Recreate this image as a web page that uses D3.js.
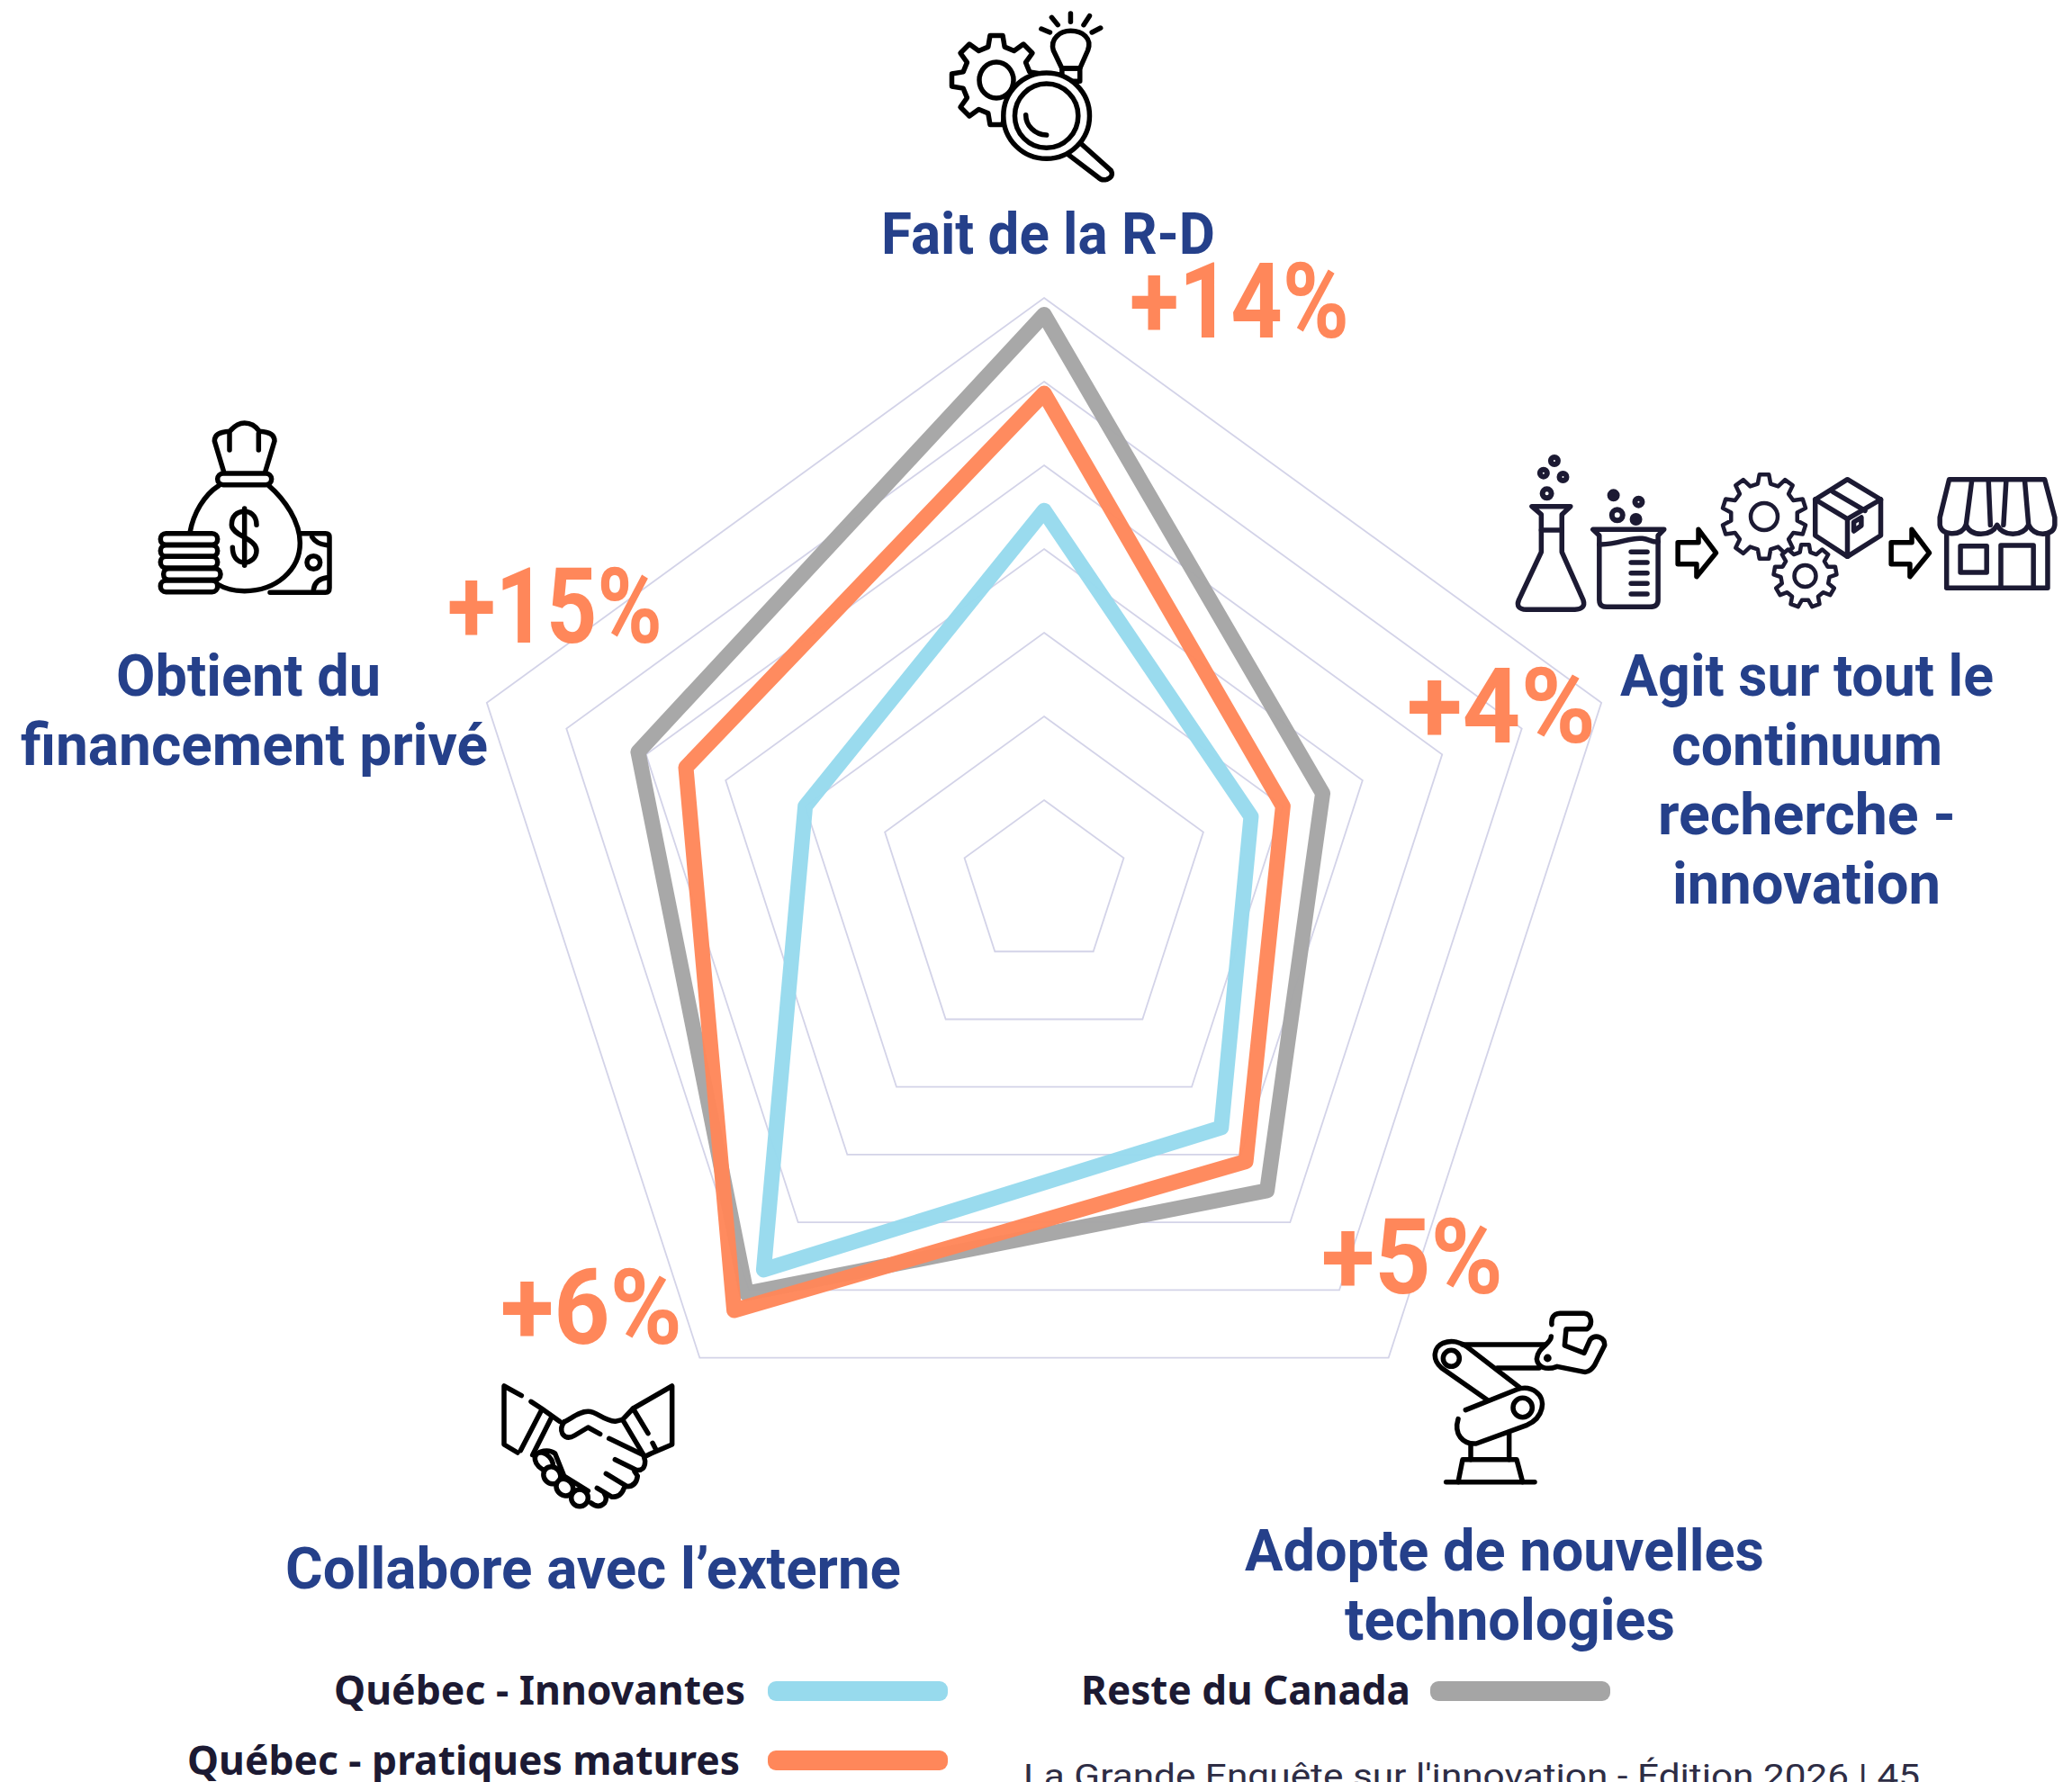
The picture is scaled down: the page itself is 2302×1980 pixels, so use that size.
<!DOCTYPE html>
<html lang="fr">
<head>
<meta charset="utf-8">
<title>Radar</title>
<script src="https://cdn.jsdelivr.net/npm/d3@7"></script>
<style>
  html, body { margin: 0; padding: 0; background: #fff; overflow: hidden; }
  svg { display: block; }
  .icon path, .icon rect, .icon ellipse, .icon line { vector-effect: non-scaling-stroke; }
</style>
</head>
<body>
<div id="chart"></div>
<script>
var width = 2302;
var height = 1980;
var center = {x: 1160, y: 982};
var outerRadius = 651;

// values
var categories = ["Fait de la R-D", "Agit sur tout le continuum recherche - innovation", "Adopte de nouvelles technologies", "Collabore avec l’externe", "Obtient du financement privé"];
var ringValues = [10, 20, 30, 40, 50, 60, 70];
var resteCanada = [68, 35, 45.3, 60.5, 51];
var qcMatures = [58.6, 30, 41, 63, 45];
var qcInnovantes = [44.6, 26, 36, 57, 30];
var gaps = ["+14%", "+4%", "+5%", "+6%", "+15%"];

var blue = "#97DAED";
var orange = "#FF875A";
var grey = "#A5A5A5";
var navy = "#25408A";
var ink = "#1C1A33";

var svg = d3.select("#chart")
    .append("svg")
    .attr("width", width)
    .attr("height", height);

svg.append("rect").attr("width", width).attr("height", height).attr("fill", "#fff");

var rScale = d3.scaleLinear().domain([0, 70]).range([0, outerRadius]);
var angleScale = d3.scalePoint().domain(d3.range(categories.length)).range([0, 2 * Math.PI * 4 / 5]);

var radar = d3.lineRadial()
    .angle(function(d, i) { return angleScale(i); })
    .radius(function(d) { return rScale(d); })
    .curve(d3.curveLinearClosed);

var plot = svg.append("g").attr("transform", `translate(${center.x},${center.y})`);

// grid rings
plot.selectAll(".ring")
    .data(ringValues)
    .enter()
    .append("path")
    .attr("class", "ring")
    .attr("d", function(v) { return radar(categories.map(function() { return v; })); })
    .attr("fill", "none")
    .attr("stroke", "#D3D3E8")
    .attr("stroke-width", 1.8);

// the three series
var series = [
    {values: resteCanada, color: grey},
    {values: qcInnovantes, color: blue},
    {values: qcMatures, color: orange}
];
plot.selectAll(".serie")
    .data(series)
    .enter()
    .append("path")
    .attr("class", "serie")
    .attr("d", function(s) { return radar(s.values); })
    .attr("fill", "none")
    .attr("stroke", function(s) { return s.color; })
    .attr("stroke-width", 17)
    .attr("stroke-linejoin", "round")
    .attr("stroke-opacity", 0.97);

// text helper, textLength squeezes Roboto to the narrower widths of the original
function label(txt, x0, x1, baseline, size, color, family, weight) {
    svg.append("text")
        .attr("x", x0)
        .attr("y", baseline)
        .attr("textLength", x1 - x0)
        .attr("lengthAdjust", "spacingAndGlyphs")
        .attr("font-family", family || "Roboto")
        .attr("font-weight", weight || 700)
        .attr("font-size", size)
        .attr("fill", color)
        .text(txt);
}

// axis labels
label("Fait de la R-D", 979, 1350, 282, 64, navy);
label("Agit sur tout le", 1800, 2215, 773, 64, navy);
label("continuum", 1857, 2158, 850, 64, navy);
label("recherche -", 1842, 2173, 927, 64, navy);
label("innovation", 1858, 2156, 1004, 64, navy);
label("Adopte de nouvelles", 1383, 1960, 1745, 64, navy);
label("technologies", 1494, 1861, 1822, 64, navy);
label("Collabore avec l’externe", 317, 1001, 1765, 64, navy);
label("Obtient du", 129, 423, 773, 64, navy);
label("financement privé", 23, 542, 850, 64, navy);

// gaps between the two Quebec series
var gapBoxes = [[1255, 1499, 375], [1563, 1773, 825], [1468, 1670, 1437], [556, 758, 1493], [497, 736, 714]];
gaps.forEach(function(g, i) {
    label(g, gapBoxes[i][0], gapBoxes[i][1], gapBoxes[i][2], 117, orange);
});

// legend
var legendNames = ["Québec - Innovantes", "Québec - pratiques matures", "Reste du Canada"];
var legendColors = [blue, orange, grey];
var legendBoxes = [
    {x0: 371, x1: 828, y: 1894, sx: 853, sy: 1867},
    {x0: 208, x1: 822, y: 1972, sx: 853, sy: 1944},
    {x0: 1201, x1: 1567, y: 1894, sx: 1589, sy: 1867}
];
legendNames.forEach(function(n, i) {
    var b = legendBoxes[i];
    label(n, b.x0, b.x1, b.y, 45, ink, "Noto Sans", 700);
    svg.append("rect")
        .attr("x", b.sx)
        .attr("y", b.sy + 1)
        .attr("width", 200)
        .attr("height", 22)
        .attr("rx", 9)
        .attr("fill", legendColors[i]);
});

label("La Grande Enquête sur l'innovation - Édition 2026 | 45", 1137, 2133, 1986, 36, "#2E2D45", "Roboto", 400);

// ---- icons ----
function iconGroup(tx, ty, sx, sy, color, sw) {
    return svg.append("g")
        .attr("class", "icon")
        .attr("transform", `translate(${tx},${ty}) scale(${sx},${sy})`)
        .attr("fill", "none")
        .attr("stroke", color)
        .attr("stroke-width", sw)
        .attr("stroke-linecap", "round")
        .attr("stroke-linejoin", "round");
}

function gearPath(cx, cy, ro, ri, n) {
    var pts = [];
    for (var i = 0; i < n; i++) {
        var a = i * 2 * Math.PI / n - Math.PI / 2;
        var w = Math.PI / n;
        pts.push([cx + ri * Math.cos(a - w * 0.62), cy + ri * Math.sin(a - w * 0.62)]);
        pts.push([cx + ro * Math.cos(a - w * 0.36), cy + ro * Math.sin(a - w * 0.36)]);
        pts.push([cx + ro * Math.cos(a + w * 0.36), cy + ro * Math.sin(a + w * 0.36)]);
        pts.push([cx + ri * Math.cos(a + w * 0.62), cy + ri * Math.sin(a + w * 0.62)]);
    }
    return d3.line()(pts) + "Z";
}

function addPaths(g, list) {
    list.forEach(function(d) { g.append("path").attr("d", d); });
}

// research icon: gear, bulb, magnifier
var rdGear = iconGroup(0, 1, 1, 1, "#000", 5.5);
rdGear.append("path").attr("d", gearPath(1107, 88, 50, 38, 8));
rdGear.append("ellipse").attr("cx", 1107).attr("cy", 88).attr("rx", 19).attr("ry", 20);
var rdBulb = iconGroup(1000, 1, 1 / 2.613, 1 / 3, "#000", 5.5);
addPaths(rdBulb, [
    "M495,42 V70", "M440,55 L458,80", "M550,50 L533,80", "M410,93 L435,105", "M582,90 L557,105",
    "M470,225 L445,165 C435,125 465,100 495,100 C530,100 558,125 545,165 L522,225 Z",
    "M470,225 H522 V268 H470 Z"
]);
var rdLens = iconGroup(1000, 1, 1 / 2.613, 1 / 3, "#000", 5.5);
rdLens.append("path").attr("d", "M505,470 L512,462 L612,565 Q622,585 600,595 Q585,600 575,588 L480,505 Z").attr("fill", "#fff");
rdLens.append("ellipse").attr("cx", 425).attr("cy", 383).attr("rx", 125).attr("ry", 143).attr("fill", "#fff");
rdLens.append("ellipse").attr("cx", 425).attr("cy", 383).attr("rx", 92).attr("ry", 107);
rdLens.append("path").attr("d", "M365,380 C365,415 390,445 425,447");

// money bag
var bag = iconGroup(130, 440, 1 / 3, 1 / 3, "#000", 5.5);
addPaths(bag, [
    "M355,250 L325,150 Q325,120 375,118 Q400,90 425,90 Q455,90 475,118 Q525,120 525,150 L495,250",
    "M375,180 V125", "M472,180 V125",
    "M340,298 C290,330 255,390 243,455",
    "M505,298 C560,345 610,420 610,490 C610,580 530,650 425,650 C395,650 365,645 340,630",
    "M465,430 C465,395 440,385 425,385 C400,385 382,400 382,430 C382,465 465,475 465,515 C465,540 445,555 425,555 C400,555 385,535 385,505",
    "M425,375 V565",
    "M610,458 H695 Q708,458 708,470 V640 Q708,655 695,655 H510",
    "M650,470 Q665,495 700,497", "M655,645 Q660,610 700,605"
]);
bag.append("rect").attr("x", 335).attr("y", 258).attr("width", 180).attr("height", 38).attr("rx", 19);
var coinRows = [[145, 458], [145, 497], [145, 535], [155, 575], [145, 615]];
coinRows.forEach(function(c) {
    bag.append("rect").attr("x", c[0]).attr("y", c[1]).attr("width", 190).attr("height", 38).attr("rx", 18).attr("fill", "#fff");
});
bag.append("ellipse").attr("cx", 655).attr("cy", 555).attr("rx", 22).attr("ry", 22);

// handshake
var hands = iconGroup(520, 1500, 1 / 3, 1 / 3, "#000", 5.5);
addPaths(hands, [
    "M178,152 L120,120 V315 L165,342", "M210,172 L245,195 L305,238", "M245,200 L175,335", "M278,225 L215,350",
    "M320,240 C350,225 370,205 400,205 C430,205 450,235 490,238 L515,232",
    "M515,232 L550,195 L680,120 V315 L610,345 L590,355",
    "M320,240 Q305,260 315,280 Q330,300 355,285 L400,258 L440,280",
    "M515,232 L585,350", "M550,195 L600,278", "M615,310 L628,335",
    "M470,295 L585,350", "M490,365 L560,400 Q590,405 590,370 L585,350",
    "M460,412 L530,455 Q560,455 565,420 L555,405", "M430,460 L480,490 Q510,490 520,460",
    "M410,510 Q435,530 455,510 Q465,495 455,480", "M240,340 Q270,330 290,345 L320,420 L400,470"
]);
[[253, 372, 35, 24, 45], [280, 418, 30, 27, 45], [322, 458, 30, 26, 45], [372, 493, 28, 28, 0]].forEach(function(f) {
    hands.append("ellipse")
        .attr("cx", f[0]).attr("cy", f[1]).attr("rx", f[2]).attr("ry", f[3])
        .attr("transform", `rotate(${f[4]},${f[0]},${f[1]})`)
        .attr("fill", "#fff");
});

// robot arm
var robot = iconGroup(1560, 1430, 1 / 3, 1 / 3, "#000", 5.5);
addPaths(robot, [
    "M140,650 H435", "M180,650 L195,575 H375 L395,650", "M222,575 V525", "M350,575 V490",
    "M180,440 C165,490 195,525 240,522 L410,460 C465,435 475,375 440,350 C420,335 395,335 375,342 L205,410",
    "M275,375 L125,270 C90,240 100,200 130,187 C160,175 190,185 210,200 L385,335",
    "M195,192 H470", "M310,270 H450",
    "M490,165 C490,190 445,200 442,240 C445,265 470,280 510,265 L600,283 C615,285 625,275 635,260 L668,195 C670,170 640,155 620,175 L600,220 L535,195 L540,140 H610 C630,125 625,90 600,88 H520 C495,90 490,105 492,125"
]);
robot.append("ellipse").attr("cx", 395).attr("cy", 402).attr("rx", 32).attr("ry", 32);
robot.append("ellipse").attr("cx", 157).attr("cy", 238).attr("rx", 27).attr("ry", 27);
robot.append("ellipse").attr("cx", 478).attr("cy", 237).attr("rx", 5).attr("ry", 5).attr("fill", "#000");

// continuum: flask, beaker, gears and box, store
var gearsChain = iconGroup(0, 0, 1, 1, ink, 4.5);
gearsChain.append("path").attr("d", gearPath(1960, 574, 47, 37, 10));
gearsChain.append("ellipse").attr("cx", 1960).attr("cy", 574).attr("rx", 15).attr("ry", 15);
gearsChain.append("path").attr("d", gearPath(2005.5, 640, 35, 27, 9)).attr("fill", "#fff");
gearsChain.append("ellipse").attr("cx", 2005.5).attr("cy", 640).attr("rx", 12).attr("ry", 12);

var chain = iconGroup(1650, 480, 1 / 2.405, 1 / 3, ink, 5.5);
addPaths(chain, [
    "M125,248 H228 L205,275 V400 L262,560 Q270,590 240,592 H110 Q80,590 90,560 L150,400 V275 Z",
    "M150,327 H205",
    "M288,325 H478 L462,345 V560 Q462,583 440,583 H325 Q305,583 305,560 V345 Z",
    "M305,375 C360,375 385,350 420,355 C440,358 450,370 462,365",
    "M882,225 L968,158 L1057,225 V345 L968,415 L882,345 Z",
    "M882,225 L968,290 L1057,225", "M968,290 V415", "M930,200 L1015,262",
    "M985,300 L1005,285 V312 L985,330 Z",
    "M1240,158 H1495 L1522,285 V310 Q1520,338 1490,340 Q1465,340 1452,310 Q1440,340 1410,340 Q1380,340 1368,310 Q1355,340 1325,340 Q1295,340 1285,310 Q1275,340 1245,338 Q1218,335 1215,310 V285 Z",
    "M1285,310 L1300,165", "M1350,310 L1345,165", "M1385,310 L1392,165" , "M1452,310 L1442,165",
    "M1233,340 V520 H1503 V340",
    "M1270,380 H1340 V468 H1270 Z", "M1378,518 V378 H1465 V518"
]);
// beaker graduations
[400, 435, 470, 505, 540].forEach(function(y) {
    chain.append("path").attr("d", `M390,${y} H433`);
});
// bubbles [x, y, radius, filled]
var bubbles = [[185, 96, 4, false], [156, 137, 4, false], [208, 150, 4, false], [165, 205, 5, false], [343, 211, 4, true], [410, 233, 4, false], [353, 277, 6, false], [403, 291, 4, true]];
bubbles.forEach(function(b) {
    chain.append("ellipse")
        .attr("cx", b[0]).attr("cy", b[1])
        .attr("rx", b[2] * 2.405).attr("ry", b[2] * 3)
        .attr("stroke-width", 6)
        .attr("fill", b[3] ? ink : "none");
});
// process arrows
var arrows = iconGroup(1650, 480, 1 / 2.405, 1 / 3, "#000", 5.5);
addPaths(arrows, [
    "M515,368 H570 V325 L617,403 L565,482 V440 H515 Z",
    "M1085,368 H1140 V325 L1187,403 L1135,482 V440 H1085 Z"
]);
</script>
</body>
</html>
